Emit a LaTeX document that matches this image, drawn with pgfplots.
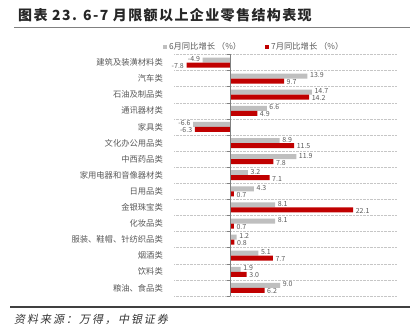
\documentclass[border=0pt]{standalone}
\usepackage{pgfplots}
\pgfplotsset{compat=1.18}
\usepackage{fontspec}
\setmainfont{Noto Sans CJK SC}
\newfontfamily\cjkslant[FakeSlant=0.2, LetterSpace=18]{Noto Sans CJK SC}
\definecolor{barGray}{HTML}{BFBFBF}
\definecolor{barRed}{HTML}{C00000}
\definecolor{txtGray}{HTML}{595959}
\begin{document}
\begin{tikzpicture}[x=1bp,y=1bp]
\path[use as bounding box] (0,0) rectangle (414,329);
\node[anchor=west, inner sep=0, text=black!85] at (18,314) {\fontsize{14bp}{16bp}\selectfont\bfseries\addfontfeatures{LetterSpace=10}图表 23. 6-7 月限额以上企业零售结构表现};
\draw[gray, line width=1bp] (14,301) -- (410,301);
\draw[black!75, line width=1.2bp] (10,22) -- (410,22);
\node[anchor=west, inner sep=0, text=black!80] at (14,10) {\fontsize{11bp}{13bp}\cjkslant 资料来源：万得，中银证券};
\begin{axis}[
  at={(174.3bp,274.5bp)}, anchor=north west,
  scale only axis, width=222.8bp, height=241.5bp,
  xbar, bar width=5bp, clip=false,
  xmin=-10, xmax=30, ymin=-0.5, ymax=14.5,
  axis line style={draw=none},
  xtick=\empty,
  ytick={0,...,14},
  yticklabels={粮油、食品类, 饮料类, 烟酒类, 服装、鞋帽、针纺织品类, 化妆品类, 金银珠宝类, 日用品类, 家用电器和音像器材类, 中西药品类, 文化办公用品类, 家具类, 通讯器材类, 石油及制品类, 汽车类, 建筑及装潢材料类},
  ytick style={draw=none},
  yticklabel style={font=\fontsize{8.3bp}{10bp}\selectfont, text=txtGray, inner sep=0pt, xshift=-7bp},
  extra y ticks={-0.5,0.5,...,14.5},
  extra y tick labels={},
  extra y tick style={grid=major, major grid style={densely dotted, gray!45}, tick style={draw=none}},
  point meta=x,
  nodes near coords, nodes near coords align={horizontal},
  every node near coord/.append style={font=\fontsize{7bp}{8bp}\selectfont, text=txtGray, inner sep=2.5bp},
  /pgf/number format/fixed, /pgf/number format/fixed zerofill, /pgf/number format/precision=1,
  /pgf/number format/assume math mode=true,
  legend style={at={(-0.065,1.031)}, anchor=west, draw=none, fill=none, legend columns=2,
    font=\fontsize{8.3bp}{9bp}\selectfont, text=txtGray,
    /tikz/every even column/.append style={column sep=22bp}},
  legend image code/.code={\fill[#1] (0bp,-2bp) rectangle (4bp,2bp);},
]
\addplot[fill=barGray, draw=none, bar shift=2.5bp, every node near coord/.append style={yshift=1bp}] coordinates {
(-4.9,14) (13.9,13) (14.7,12) (6.6,11) (-6.6,10) (8.9,9) (11.9,8) (3.2,7) (4.3,6) (8.1,5) (8.1,4) (1.2,3) (5.1,2) (1.9,1) (9.0,0)};
\addlegendentry{6月同比增长 （\%）}
\addplot[fill=barRed, draw=none, bar shift=-2.5bp, every node near coord/.append style={yshift=-1bp}] coordinates {
(-7.8,14) (9.7,13) (14.2,12) (4.9,11) (-6.3,10) (11.5,9) (7.8,8) (7.1,7) (0.7,6) (22.1,5) (0.7,4) (0.8,3) (7.7,2) (3.0,1) (6.2,0)};
\addlegendentry{7月同比增长 （\%）}
\draw[gray] (axis cs:0,-0.5) -- (axis cs:0,14.5);
\pgfplotsinvokeforeach{-0.5,0.5,1.5,2.5,3.5,4.5,5.5,6.5,7.5,8.5,9.5,10.5,11.5,12.5,13.5,14.5}{\draw[gray] (axis cs:0,#1) -- ([xshift=-3bp]axis cs:0,#1);}
\end{axis}
\end{tikzpicture}
\end{document}
